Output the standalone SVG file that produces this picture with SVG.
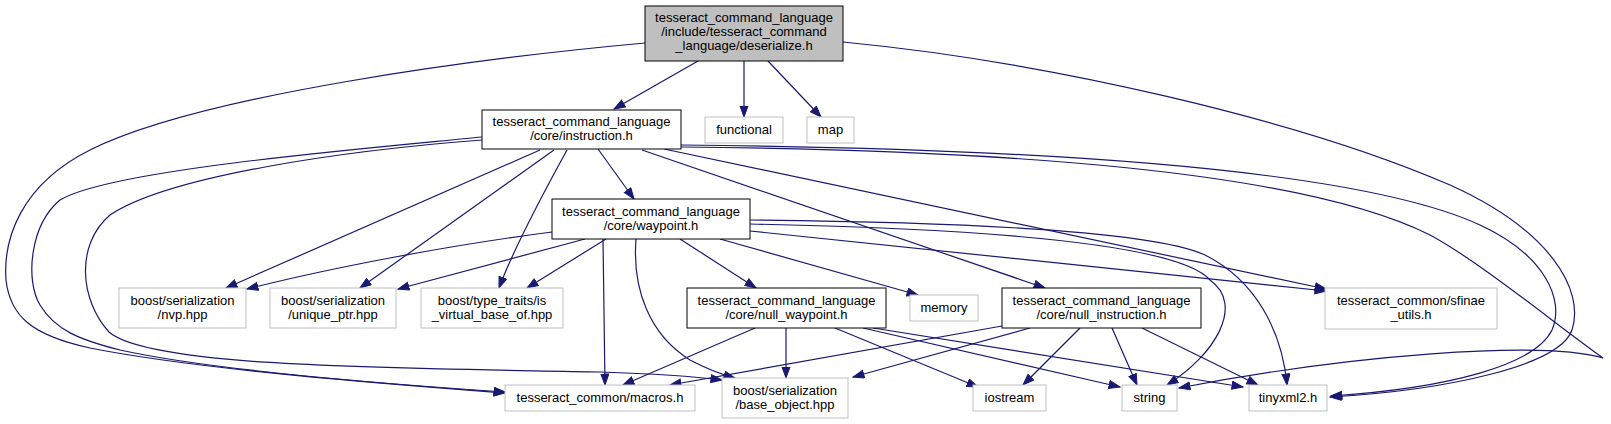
<svg xmlns="http://www.w3.org/2000/svg" width="1611" height="424" viewBox="0 0 1611 424">
<style>
.n rect{fill:#ffffff;stroke:#bfbfbf;stroke-width:1}
.n.d rect{stroke:#000000}
.n.root rect{fill:#bfbfbf;stroke:#000000}
text{font-family:"Liberation Sans",Arial,Helvetica,sans-serif;font-size:13px;fill:#000000;text-anchor:middle}
.e path{fill:none;stroke:#191970;stroke-width:1.2;marker-end:url(#ah)}
</style>
<defs>
<marker id="ah" markerUnits="userSpaceOnUse" markerWidth="13" markerHeight="10" refX="11.5" refY="4.5" orient="auto" viewBox="0 0 13 10">
<path d="M0.5,0.5 L11.5,4.5 L0.5,8.5 Z" fill="#191970" stroke="#191970" stroke-width="1"/>
</marker>
</defs>
<rect width="1611" height="424" fill="#ffffff"/>
<g id="edges" class="e">
<path d="M698,61 L614,109"/>
<path d="M744,61 L744,117"/>
<path d="M768,61 L821,117"/>
<path d="M645,43 C480,58 200,95 90,150 C20,185 3,240 6,280 C10,315 30,335 90,348 C200,370 400,385 505,393"/>
<path d="M843,42 C1050,62 1300,120 1450,185 C1550,230 1585,290 1572,330 C1560,365 1450,390 1330,397"/>
<path d="M598,149 L634,199"/>
<path d="M540,150 L226,288"/>
<path d="M554,150 L360,288"/>
<path d="M567,150 C545,190 515,245 499,288"/>
<path d="M642,150 L1045,288"/>
<path d="M664,149 L1326,289"/>
<path d="M681,147 C1000,150 1300,170 1430,235 C1480,262 1550,320 1603,358 C1540,340 1350,355 1179,388"/>
<path d="M681,145 C1000,148 1350,165 1480,225 C1545,255 1565,300 1552,330 C1535,365 1450,388 1331,396"/>
<path d="M482,137 C350,150 110,170 60,200 C30,225 25,280 40,305 C55,330 80,340 120,350 C220,372 400,385 505,392"/>
<path d="M482,140 C350,150 170,175 110,215 C75,245 80,300 109,332 C150,368 400,368 600,372 C660,374 690,376 722,380"/>
<path d="M552,232 C450,245 330,268 247,289"/>
<path d="M585,239 L398,289"/>
<path d="M606,239 L527,288"/>
<path d="M603,239 L605,385"/>
<path d="M636,239 C632,290 650,335 690,360 C705,368 720,374 735,378"/>
<path d="M680,239 L756,288"/>
<path d="M720,239 L918,295"/>
<path d="M750,231 L1326,291"/>
<path d="M750,224 C950,228 1175,240 1210,280 C1245,305 1215,355 1167,385"/>
<path d="M750,220 C950,222 1150,230 1205,255 C1255,280 1282,330 1287,385"/>
<path d="M755,328 L623,385"/>
<path d="M786,328 L786,378"/>
<path d="M835,328 L978,387"/>
<path d="M863,328 L1120,387"/>
<path d="M873,328 L1243,387"/>
<path d="M1002,326 L670,385"/>
<path d="M1030,328 L853,377"/>
<path d="M1080,328 L1023,385"/>
<path d="M1112,328 L1137,385"/>
<path d="M1142,328 L1258,385"/>
</g>
<g id="node_deserialize" class="n root"><rect x="645" y="6" width="198" height="55"/><text x="744" y="21.5">tesseract_command_language</text><text x="744" y="35.5">/include/tesseract_command</text><text x="744" y="49.5">_language/deserialize.h</text></g>
<g id="node_instruction" class="n d"><rect x="482" y="110" width="199" height="39"/><text x="581.5" y="126">tesseract_command_language</text><text x="581.5" y="140">/core/instruction.h</text></g>
<g id="node_functional" class="n"><rect x="705" y="117" width="78" height="26"/><text x="744" y="134">functional</text></g>
<g id="node_map" class="n"><rect x="807" y="117" width="47" height="26"/><text x="830.5" y="134">map</text></g>
<g id="node_waypoint" class="n d"><rect x="552" y="199" width="198" height="40"/><text x="651" y="215.5">tesseract_command_language</text><text x="651" y="229.5">/core/waypoint.h</text></g>
<g id="node_nvp" class="n"><rect x="119" y="288" width="127" height="40"/><text x="182.5" y="304.5">boost/serialization</text><text x="182.5" y="318.5">/nvp.hpp</text></g>
<g id="node_unique_ptr" class="n"><rect x="270" y="288" width="126" height="40"/><text x="333" y="304.5">boost/serialization</text><text x="333" y="318.5">/unique_ptr.hpp</text></g>
<g id="node_is_virtual" class="n"><rect x="421" y="288" width="142" height="40"/><text x="492" y="304.5">boost/type_traits/is</text><text x="492" y="318.5">_virtual_base_of.hpp</text></g>
<g id="node_null_waypoint" class="n d"><rect x="687" y="288" width="199" height="40"/><text x="786.5" y="304.5">tesseract_command_language</text><text x="786.5" y="318.5">/core/null_waypoint.h</text></g>
<g id="node_memory" class="n"><rect x="910" y="295" width="68" height="26"/><text x="944" y="312">memory</text></g>
<g id="node_null_instruction" class="n d"><rect x="1002" y="288" width="199" height="40"/><text x="1101.5" y="304.5">tesseract_command_language</text><text x="1101.5" y="318.5">/core/null_instruction.h</text></g>
<g id="node_sfinae" class="n"><rect x="1325" y="288" width="172" height="41"/><text x="1411" y="304.5">tesseract_common/sfinae</text><text x="1411" y="318.5">_utils.h</text></g>
<g id="node_macros" class="n"><rect x="505" y="385" width="190" height="26"/><text x="600" y="401.5">tesseract_common/macros.h</text></g>
<g id="node_base_object" class="n"><rect x="722" y="378" width="126" height="40"/><text x="785" y="394.5">boost/serialization</text><text x="785" y="408.5">/base_object.hpp</text></g>
<g id="node_iostream" class="n"><rect x="973" y="385" width="73" height="26"/><text x="1009.5" y="401.5">iostream</text></g>
<g id="node_string" class="n"><rect x="1122" y="385" width="55" height="26"/><text x="1149.5" y="401.5">string</text></g>
<g id="node_tinyxml2" class="n"><rect x="1249" y="385" width="78" height="26"/><text x="1288" y="401.5">tinyxml2.h</text></g>
</svg>
